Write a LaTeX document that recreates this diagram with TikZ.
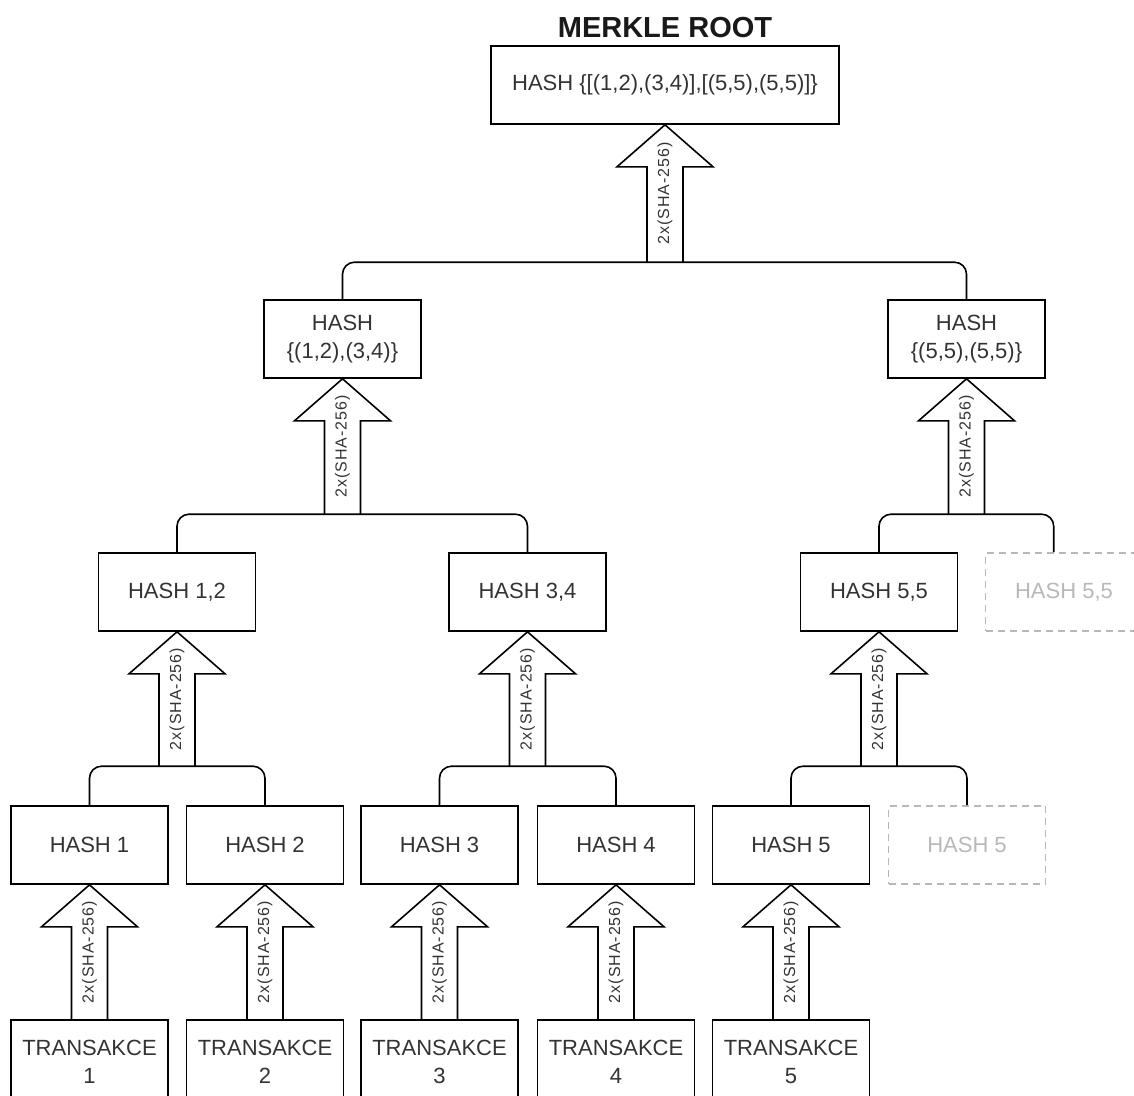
\documentclass[tikz,border=0pt]{standalone}
\usepackage{fontspec}
\setmainfont{Liberation Sans}
\usetikzlibrary{calc}
\definecolor{txt}{HTML}{333333}
\definecolor{ghostgray}{HTML}{B8B8B8}

% block arrow from a bracket junction (#1) up to a parent box (#2)
\newcommand\hashstep[2]{%
  \draw[blockarrow] ($(#1)+(-18,0)$) -- ($(#2)+(-18,42)$) -- ($(#2)+(-48,42)$)
    -- (#2) -- ($(#2)+(48,42)$) -- ($(#2)+(18,42)$) -- ($(#1)+(18,0)$);
  \node[shalabel] at ($(#1)!0.5!(#2)$) {2x(SHA-256)};
}

\tikzset{
  box/.style={draw=black, line width=1.6pt, minimum width=157pt, minimum height=78pt,
    inner sep=0pt, align=center, text=txt, font=\fontsize{22}{28}\selectfont},
  ghost/.style={box, draw=ghostgray, dash pattern=on 7pt off 5pt, text=ghostgray},
  txbox/.style={box, minimum height=84pt},
  rootbox/.style={box, minimum width=348pt},
  bracket/.style={draw=black, line width=1.6pt, rounded corners=12pt},
  blockarrow/.style={draw=black, line width=1.6pt, line join=miter},
  shalabel/.style={rotate=90, inner sep=0pt, text=txt,
    font=\fontsize{16}{18}\selectfont\addfontfeature{LetterSpace=6}},
}

\begin{document}
\begin{tikzpicture}[x=1pt, y=-1pt]
\useasboundingbox (0,0) rectangle (1134,1095);
\clip (0,0) rectangle (1134,1095);

% title and root
\node[font=\bfseries\fontsize{29}{34}\selectfont, text=black!90] (title) at (665,28) {MERKLE ROOT};
\node[rootbox] (root) at (665,85) {HASH \{[(1,2),(3,4)],[(5,5),(5,5)]\}};

% second level
\node[box] (h1234) at (342.5,339) {HASH\\\{(1,2),(3,4)\}};
\node[box] (h5555) at (966.5,339) {HASH\\\{(5,5),(5,5)\}};

% third level
\node[box] (h12) at (177,592) {HASH 1,2};
\node[box] (h34) at (527.5,592) {HASH 3,4};
\node[box] (h55) at (879,592) {HASH 5,5};
\node[ghost] (h55d) at (1064,592) {HASH 5,5};

% leaf hashes
\node[box] (h1) at (89.5,845) {HASH 1};
\node[box] (h2) at (265,845) {HASH 2};
\node[box] (h3) at (439.5,845) {HASH 3};
\node[box] (h4) at (616,845) {HASH 4};
\node[box] (h5) at (791,845) {HASH 5};
\node[ghost] (h5d) at (967,845) {HASH 5};

% transactions
\node[txbox] (t1) at (89.5,1062) {TRANSAKCE\\1};
\node[txbox] (t2) at (265,1062) {TRANSAKCE\\2};
\node[txbox] (t3) at (439.5,1062) {TRANSAKCE\\3};
\node[txbox] (t4) at (616,1062) {TRANSAKCE\\4};
\node[txbox] (t5) at (791,1062) {TRANSAKCE\\5};

% bracket heights
\coordinate (barR) at ($(h1234.north)+(0,-37)$);
\coordinate (barA) at ($(h12.north)+(0,-38)$);
\coordinate (barB) at ($(h55.north)+(0,-38)$);
\coordinate (barC) at ($(h1.north)+(0,-39)$);
\coordinate (barD) at ($(h3.north)+(0,-39)$);
\coordinate (barE) at ($(h5.north)+(0,-39)$);
\coordinate (h55dtop) at ($(h55d.north west)+(69,0)$);

% brackets joining sibling pairs
\draw[bracket] (h1234.north) -- (h1234.north |- barR) -| (h5555.north);
\draw[bracket] (h12.north) -- (h12.north |- barA) -| (h34.north);
\draw[bracket] (h55.north) -- (h55.north |- barB) -| (h55dtop);
\draw[bracket] (h1.north) -- (h1.north |- barC) -| (h2.north);
\draw[bracket] (h3.north) -- (h3.north |- barD) -| (h4.north);
\draw[bracket] (h5.north) -- (h5.north |- barE) -| (h5d.north);

% feet of the hashing arrows
\coordinate (fR) at (root.south |- barR);
\coordinate (fA) at (h1234.south |- barA);
\coordinate (fB) at (h5555.south |- barB);
\coordinate (fC) at (h12.south |- barC);
\coordinate (fD) at (h34.south |- barD);
\coordinate (fE) at (h55.south |- barE);

% hashing arrows
\hashstep{fR}{root.south}
\hashstep{fA}{h1234.south}
\hashstep{fB}{h5555.south}
\hashstep{fC}{h12.south}
\hashstep{fD}{h34.south}
\hashstep{fE}{h55.south}
\hashstep{t1.north}{h1.south}
\hashstep{t2.north}{h2.south}
\hashstep{t3.north}{h3.south}
\hashstep{t4.north}{h4.south}
\hashstep{t5.north}{h5.south}
\end{tikzpicture}
\end{document}
